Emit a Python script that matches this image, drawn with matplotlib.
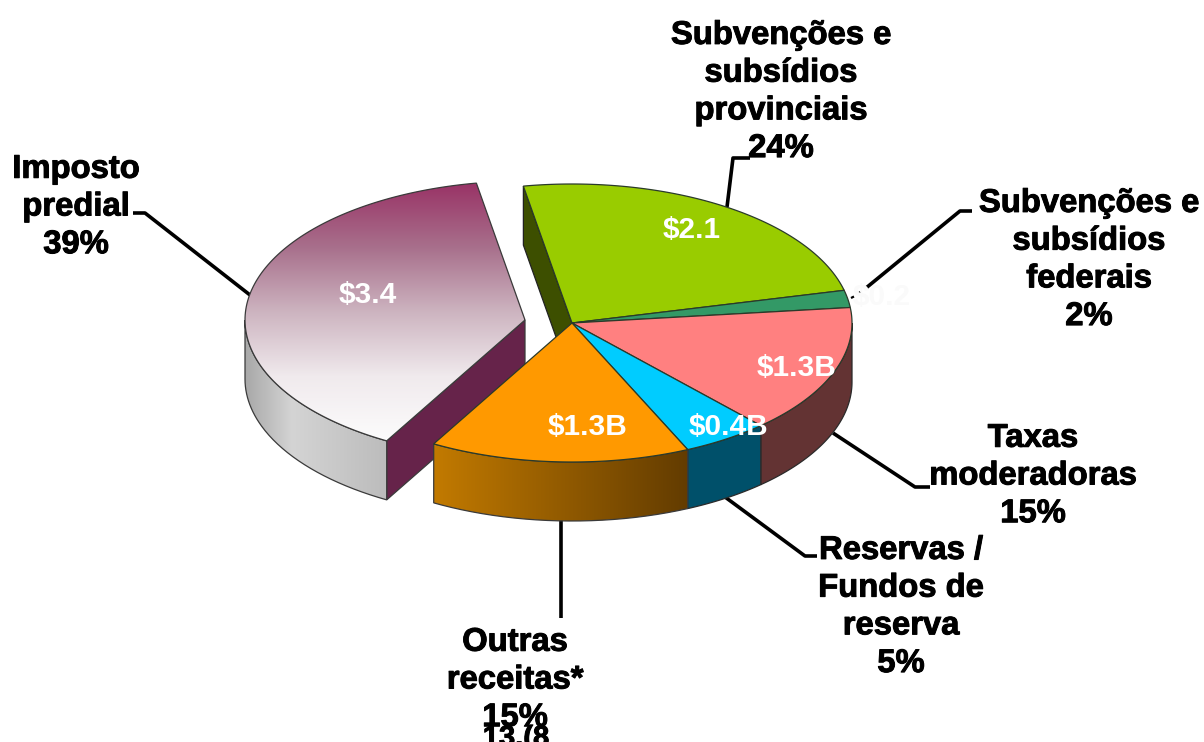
import numpy as np
import matplotlib
matplotlib.use('Agg')
import matplotlib.pyplot as plt
import matplotlib.patheffects as pe
from matplotlib.colors import LinearSegmentedColormap
from matplotlib.patches import PathPatch, Polygon
from matplotlib.path import Path

plt.rcParams['font.family'] = ['Liberation Sans', 'DejaVu Sans']

# clockwise from the top, purple slice last
names = ['Subvenções e\nsubsídios\nprovinciais', 'Subvenções e\nsubsídios\nfederais',
         'Taxas\nmoderadoras', 'Reservas /\nFundos de\nreserva', 'Outras\nreceitas*', 'Imposto\npredial']
shares = [24, 2, 15, 5, 15, 39]
amounts = ['$2.1', '$0.2', '$1.3B', '$0.4B', '$1.3B', '$3.4']

top_colors = ['#99cc00', '#339966', '#ff8080', '#00ccff', '#ff9900', '#993366']
side_colors = ['#3d4f00', '#1f5c3d', '#633333', '#00506a', '#a86e00', '#c4c4c4']

# -------------- pie geometry (pixels) --------------
cx, cy = 572, 323
rx, ry = 280, 139
depth = 59
start = 100
explode = (-47, -3)
# ---------------------------------------------------

fig = plt.figure(figsize=(12.04, 7.42), dpi=100)
ax = fig.add_axes([0, 0, 1, 1])

edges = start - np.cumsum([0] + shares) * 3.6


def rim(a0, a1, x0, y0, dz=0):
    t = np.radians(np.linspace(a0, a1, 120))
    return np.column_stack([x0 + rx * np.cos(t), y0 - ry * np.sin(t) + dz])


def top_path(a0, a1, x0, y0):
    pts = np.vstack([[x0, y0], rim(a0, a1, x0, y0), [x0, y0]])
    return Path(pts)


def side_path(a0, a1, x0, y0):
    outer = rim(a0, a1, x0, y0)
    lower = rim(a1, a0, x0, y0, depth)
    return Path(np.vstack([outer, lower, outer[:1]]))


def gradient_fill(path, colors, z, horizontal=False):
    patch = PathPatch(path, facecolor='none', edgecolor='#3a3a3a', lw=0.9, zorder=z + 0.05)
    ax.add_patch(patch)
    x0, y0 = path.vertices.min(axis=0)
    x1, y1 = path.vertices.max(axis=0)
    grad = np.linspace(0, 1, 256)
    grad = grad[None, :] if horizontal else grad[:, None]
    cmap = LinearSegmentedColormap.from_list('g', colors)
    im = ax.imshow(grad, cmap=cmap, extent=[x0, x1, y1, y0], aspect='auto', zorder=z)
    im.set_clip_path(patch)


# exploded slice, drawn first because orange covers it
px, py = cx + explode[0], cy + explode[1]
a_end, a_start = edges[6], edges[5]   # -260 is the top corner, -119.6 the front corner
corner = rim(a_start, a_start, px, py)[0]
ax.add_patch(Polygon([[px, py], corner, corner + [0, depth], [px, py + depth]],
                     facecolor='#66234a', edgecolor='#3a3a3a', lw=0.9, zorder=1))
gradient_fill(side_path(-180, a_start, px, py), ['#a8a8a8', '#d4d4d4', '#c8c8c8', '#bcbcbc'], 1.1, True)
gradient_fill(top_path(a_start, a_end, px, py), ['#993366', '#a8708c', '#cdb4c0', '#f0eaed', '#fcfcfc'], 1.2)

# inner face of the green slice
corner = rim(edges[0], edges[0], cx, cy)[0]
ax.add_patch(Polygon([[cx, cy], corner, corner + [0, depth], [cx, cy + depth]],
                     facecolor=side_colors[0], edgecolor='#222222', lw=0.9, zorder=1.5))

# outer walls of the front slices
for i in range(1, 5):
    a_top = min(edges[i], 0)
    a_bot = edges[i + 1]
    if a_top <= a_bot:
        continue
    path = side_path(a_bot, a_top, cx, cy)
    if i == 4:
        gradient_fill(path, ['#c27a00', '#633c00'], 1.8, True)
    else:
        ax.add_patch(PathPatch(path, facecolor=side_colors[i], edgecolor='#2a2a2a', lw=0.9, zorder=1.8))

# top faces
for i in range(5):
    ax.add_patch(PathPatch(top_path(edges[i], edges[i + 1], cx, cy), facecolor=top_colors[i],
                           edgecolor='#2a3a2a', lw=0.9, zorder=2))

# leader lines
leaders = [
    ([727, 733, 750], [207, 158, 158]),
    ([866, 960, 972], [288, 211, 211]),
    ([833, 915, 930], [433, 487, 487]),
    ([725, 805, 817], [497, 556, 556]),
    ([561, 561], [520, 618]),
    ([133, 145, 250], [213, 213, 295]),
]
for xs, ys in leaders:
    ax.plot(xs, ys, color='black', lw=2.6, solid_capstyle='butt', zorder=1)
ax.plot([851, 855, 859, 863], [298, 296, 293, 290], color='black', lw=1.6, ls=(0, (1.5, 2)), zorder=1)

# slice names with their share below
label_pos = [(781, 92), (1089, 260), (1033, 476), (901, 607), (515, 680), (76, 207)]
thick = [pe.withStroke(linewidth=0.7, foreground='black')]
for i in range(6):
    ax.text(label_pos[i][0], label_pos[i][1], names[i] + '\n' + str(shares[i]) + '%', ha='center',
            va='center', fontsize=23.6, fontweight='bold', color='black', linespacing=1.28, zorder=5,
            path_effects=thick)
ax.text(516, 738, '13.(8', ha='center', va='center', fontsize=21, fontweight='bold', color='black',
        zorder=4, path_effects=thick)

# amounts on the slices
amount_pos = [(692, 230), (882, 297), (797, 368), (728, 427), (588, 427), (368, 295)]
amount_cols = ['white', '#fafafa', 'white', 'white', 'white', 'white']
for i in range(6):
    ax.text(amount_pos[i][0], amount_pos[i][1], amounts[i], ha='center', va='center', fontsize=21.5,
            fontweight='bold', color=amount_cols[i], zorder=6)

ax.set_xlim(0, 1204)
ax.set_ylim(742, 0)
ax.axis('off')
fig.savefig('out.png', dpi=100)
